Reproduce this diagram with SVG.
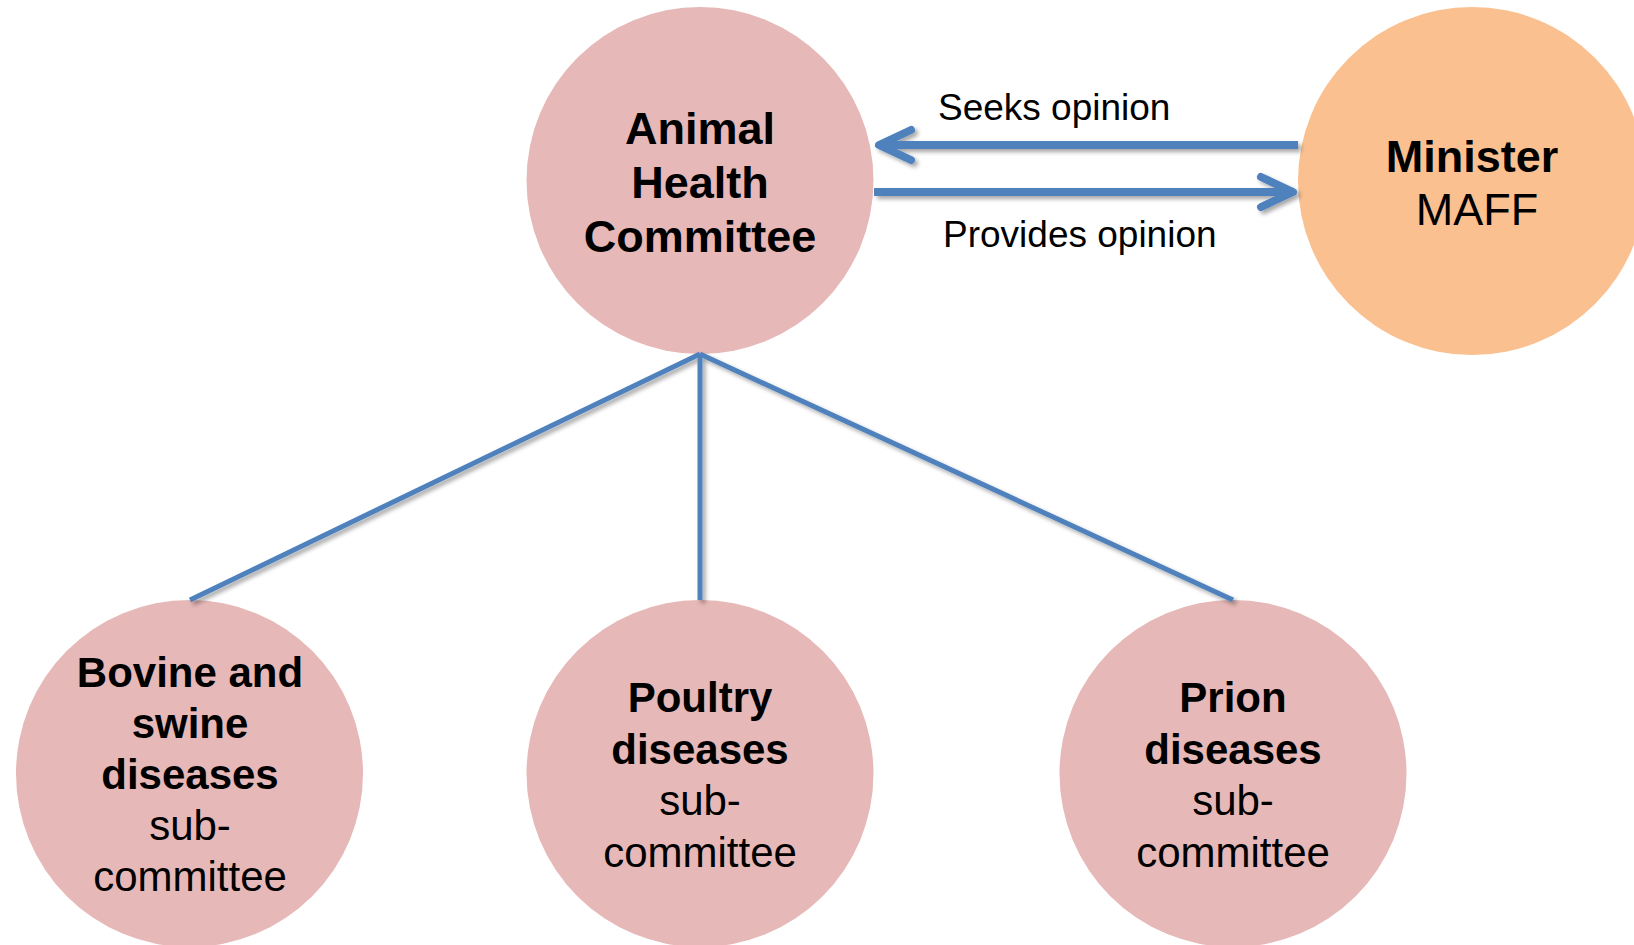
<svg xmlns="http://www.w3.org/2000/svg" width="1634" height="945" viewBox="0 0 1634 945">
<style>
.pink{fill:#e6b8b7}
.orange{fill:#fac090}
.t{font-family:"Liberation Sans",Arial,sans-serif;fill:#000;text-anchor:middle}
.b{font-weight:bold}
.big{font-size:45px}
.mid{font-size:42px}
.lbl{font-family:"Liberation Sans",Arial,sans-serif;font-size:37px;fill:#000}
.edge{stroke:#4f81bd;stroke-width:5;fill:none;stroke-linecap:butt}
.arrow{stroke:#4f81bd;stroke-width:8;fill:none;stroke-linecap:butt}
</style>
<defs>
<filter id="sh" x="-10%" y="-50%" width="120%" height="200%">
<feDropShadow dx="3" dy="3" stdDeviation="2" flood-color="#000" flood-opacity="0.35"/>
</filter>
<marker id="chev" markerUnits="userSpaceOnUse" viewBox="-40 -22 48 44" refX="0" refY="0" markerWidth="48" markerHeight="44" orient="auto" overflow="visible">
<path d="M-32,-15 L0,0 L-32,15" fill="none" stroke="#4f81bd" stroke-width="8" stroke-linecap="round" stroke-linejoin="round"/>
</marker>
</defs>
<rect width="1634" height="945" fill="#fff"/>
<g id="animal-health-committee">
<circle class="pink" cx="700" cy="180.5" r="173.5"/>
<text class="t b big" x="700" y="144">Animal</text>
<text class="t b big" x="700" y="198">Health</text>
<text class="t b big" x="700" y="252">Committee</text>
</g>
<g id="minister-maff">
<circle class="orange" cx="1472" cy="181" r="174"/>
<text class="t b big" x="1472" y="172">Minister</text>
<text class="t big" x="1477" y="225">MAFF</text>
</g>
<g id="bovine-swine">
<circle class="pink" cx="189.5" cy="773.5" r="173.5"/>
<text class="t b mid" x="190" y="687">Bovine and</text>
<text class="t b mid" x="190" y="738">swine</text>
<text class="t b mid" x="190" y="789">diseases</text>
<text class="t mid" x="190" y="840">sub-</text>
<text class="t mid" x="190" y="891">committee</text>
</g>
<g id="poultry">
<circle class="pink" cx="700" cy="773.5" r="173.5"/>
<text class="t b mid" x="700" y="712">Poultry</text>
<text class="t b mid" x="700" y="763.5">diseases</text>
<text class="t mid" x="700" y="815">sub-</text>
<text class="t mid" x="700" y="866.5">committee</text>
</g>
<g id="prion">
<circle class="pink" cx="1233" cy="773.5" r="173.5"/>
<text class="t b mid" x="1233" y="712">Prion</text>
<text class="t b mid" x="1233" y="763.5">diseases</text>
<text class="t mid" x="1233" y="815">sub-</text>
<text class="t mid" x="1233" y="866.5">committee</text>
</g>
<g id="connectors" filter="url(#sh)">
<line class="edge" x1="700" y1="354" x2="190" y2="600"/>
<line class="edge" x1="700" y1="354" x2="700" y2="600"/>
<line class="edge" x1="700" y1="354" x2="1233" y2="600"/>
<line class="arrow" x1="1298" y1="145" x2="879" y2="145" marker-end="url(#chev)"/>
<line class="arrow" x1="874" y1="192" x2="1293" y2="192" marker-end="url(#chev)"/>
</g>
<g id="labels">
<text class="lbl" x="938" y="120">Seeks opinion</text>
<text class="lbl" x="943" y="247">Provides opinion</text>
</g>
</svg>
